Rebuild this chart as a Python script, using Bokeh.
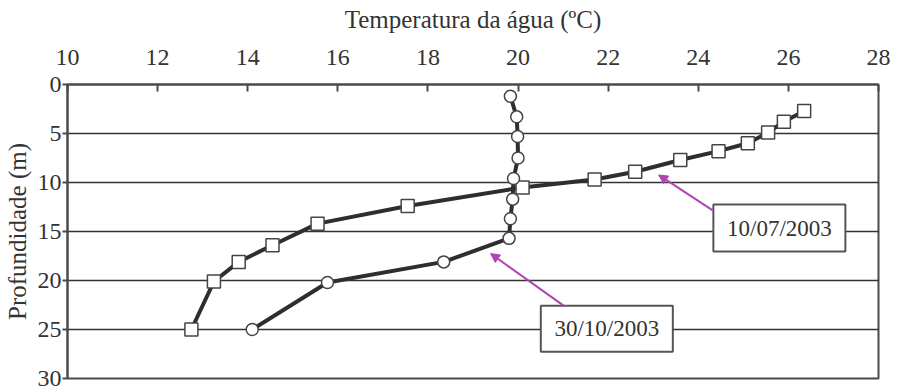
from bokeh.plotting import figure
from bokeh.models import Range1d, FixedTicker, Arrow, NormalHead, ColumnDataSource
from bokeh.embed import file_html
from bokeh.resources import INLINE
from bokeh.core.properties import value

# ---- data ----
temp_jul = [26.35, 25.9, 25.55, 25.1, 24.45, 23.6, 22.6, 21.7, 20.1, 17.55, 15.55, 14.55, 13.8, 13.25, 12.75]
depth_jul = [2.7, 3.8, 4.9, 6.0, 6.8, 7.7, 8.9, 9.7, 10.5, 12.4, 14.2, 16.4, 18.1, 20.1, 25.0]

temp_oct = [19.83, 19.97, 19.99, 20.0, 19.9, 19.88, 19.83, 19.8, 18.35, 15.77, 14.1]
depth_oct = [1.2, 3.3, 5.3, 7.5, 9.6, 11.7, 13.7, 15.7, 18.1, 20.2, 25.0]

x_ticks = [10, 12, 14, 16, 18, 20, 22, 24, 26, 28]
y_ticks = [0, 5, 10, 15, 20, 25, 30]

label_texts = ["10/07/2003", "30/10/2003"]
label_x = [25.8, 21.97]
label_y = [14.65, 24.92]
box_w = [2.93, 2.93]
box_h = [4.8, 4.7]
arrow_x_start = [24.32, 21.01]
arrow_y_start = [12.84, 22.57]
arrow_x_end = [23.12, 19.39]
arrow_y_end = [9.23, 17.25]

FONT = "'Liberation Serif', 'Times New Roman', serif"
TXT = "#333333"
AX = "#4a4a4a"
MAG = "#b044b0"

p = figure(width=903, height=390, output_backend="svg", toolbar_location=None,
           x_axis_location="above",
           x_range=Range1d(10, 28), y_range=Range1d(30, 0),
           min_border_left=67, min_border_right=25, min_border_top=84, min_border_bottom=12)

p.background_fill_color = "white"
p.border_fill_color = "white"
p.outline_line_color = AX
p.outline_line_width = 2

# grid
p.xgrid.visible = False
p.ygrid.ticker = FixedTicker(ticks=y_ticks)
p.ygrid.grid_line_color = "#333333"
p.ygrid.grid_line_width = 1.5

# x axis (top)
xa = p.xaxis[0]
xa.ticker = FixedTicker(ticks=x_ticks)
xa.axis_label = "Temperatura da água (ºC)"
xa.axis_label_text_font = FONT
xa.axis_label_text_font_style = "normal"
xa.axis_label_text_font_size = "25px"
xa.axis_label_text_color = TXT
xa.axis_label_standoff = 14
xa.major_label_text_font = FONT
xa.major_label_text_font_size = "24px"
xa.major_label_text_color = TXT
xa.major_label_standoff = 20
xa.major_tick_in = 7
xa.major_tick_out = 0
xa.minor_tick_in = 0
xa.minor_tick_out = 0
xa.axis_line_color = AX
xa.axis_line_width = 2
xa.major_tick_line_color = AX
xa.major_tick_line_width = 2

# y axis (left)
ya = p.yaxis[0]
ya.ticker = FixedTicker(ticks=y_ticks)
ya.axis_label = "Profundidade (m)"
ya.axis_label_text_font = FONT
ya.axis_label_text_font_style = "normal"
ya.axis_label_text_font_size = "25px"
ya.axis_label_text_color = TXT
ya.axis_label_standoff = 4
ya.major_label_text_font = FONT
ya.major_label_text_font_size = "24px"
ya.major_label_text_color = TXT
ya.major_label_standoff = 1
ya.major_tick_in = 0
ya.major_tick_out = 5
ya.minor_tick_in = 0
ya.minor_tick_out = 0
ya.axis_line_color = AX
ya.axis_line_width = 2
ya.major_tick_line_color = AX
ya.major_tick_line_width = 2

# series
src_jul = ColumnDataSource(dict(t=temp_jul, d=depth_jul))
src_oct = ColumnDataSource(dict(t=temp_oct, d=depth_oct))

p.line("t", "d", source=src_jul, line_color="#2e2e2e", line_width=4)
p.line("t", "d", source=src_oct, line_color="#2e2e2e", line_width=4)
p.scatter("t", "d", source=src_jul, marker="square", size=13,
          fill_color="white", line_color="#444444", line_width=1.5)
p.scatter("t", "d", source=src_oct, marker="circle", size=12,
          fill_color="white", line_color="#444444", line_width=1.5)

# annotation arrows
for xs, ys, xe, ye in zip(arrow_x_start, arrow_y_start, arrow_x_end, arrow_y_end):
    p.add_layout(Arrow(x_start=xs, y_start=ys, x_end=xe, y_end=ye,
                       line_color=MAG, line_width=2,
                       end=NormalHead(size=9, fill_color=MAG, line_color=MAG, line_width=1)))

# annotation boxes
src_lab = ColumnDataSource(dict(x=label_x, y=label_y, w=box_w, h=box_h, txt=label_texts))
p.rect("x", "y", width="w", height="h", source=src_lab,
       fill_color="white", line_color="#555555", line_width=2)
p.text("x", "y", text="txt", source=src_lab, text_font=value(FONT),
       text_font_size="23px", text_color=TXT, text_align="center", text_baseline="middle")

open("out.html", "w").write(file_html(p, INLINE))
